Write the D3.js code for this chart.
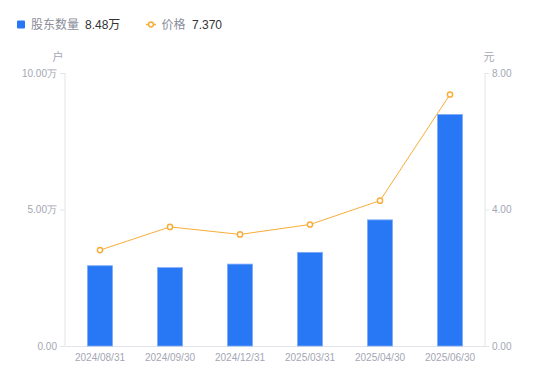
<!DOCTYPE html>
<html><head><meta charset="utf-8">
<script src="https://cdn.jsdelivr.net/npm/d3@7"></script>
<style>
body{margin:0;background:#fff;}
svg{display:block;font-family:"Liberation Sans","Noto Sans CJK SC",sans-serif;}
</style></head>
<body><svg id="c" width="550" height="381"></svg>
<script>
const categories = ["2024/08/31","2024/09/30","2024/12/31","2025/03/31","2025/04/30","2025/06/30"];
const holders = [2.94, 2.87, 3.00, 3.43, 4.62, 8.48];   // 万户
const prices = [2.81, 3.49, 3.27, 3.56, 4.26, 7.37];    // 元
const leftTicks = [0, 5, 10];
const rightTicks = [0, 4, 8];

const svg = d3.select("#c");
const m = {l:65, r:485, t:73, b:346};
const blue = "#2878f5", orange = "#f8ad3a", axisC = "#e3e4ea", labC = "#a3a6b4";

const x = d3.scaleBand().domain(categories).range([m.l, m.r]);
const yL = d3.scaleLinear().domain([0,10]).range([m.b, m.t]);
const yR = d3.scaleLinear().domain([0,8]).range([m.b, m.t]);

// left axis
const gl = svg.append("g").attr("transform",`translate(${m.l},0)`)
  .call(d3.axisLeft(yL).tickValues(leftTicks).tickSize(5).tickPadding(3)
    .tickFormat(d => d===0 ? "0.00" : d3.format(".2f")(d)+"万"));
// right axis
const gr = svg.append("g").attr("transform",`translate(${m.r},0)`)
  .call(d3.axisRight(yR).tickValues(rightTicks).tickSize(4).tickPadding(3)
    .tickFormat(d3.format(".2f")));
[gl,gr].forEach(g=>{
  g.select(".domain").attr("stroke",axisC).attr("d", g===gl ? `M0,${m.t}V${m.b}` : `M0,${m.t}V${m.b}`);
  g.selectAll(".tick line").attr("stroke",axisC);
  g.selectAll(".tick text").attr("fill",labC).attr("font-size",10);
});
// bottom axis
const gb = svg.append("g").attr("transform",`translate(0,${m.b})`)
  .call(d3.axisBottom(x).tickSize(0).tickPadding(8));
gb.select(".domain").attr("stroke",axisC);
gb.selectAll(".tick text").attr("fill",labC).attr("font-size",10);

// unit labels
svg.append("text").attr("x",58).attr("y",61).attr("text-anchor","middle").attr("fill",labC).attr("font-size",11).text("户");
svg.append("text").attr("x",489).attr("y",61).attr("text-anchor","middle").attr("fill",labC).attr("font-size",11).text("元");

// bars
const bw = 25;
svg.append("g").selectAll("rect").data(holders).join("rect")
  .attr("x",(d,i)=>x(categories[i])+x.bandwidth()/2-bw/2)
  .attr("y",d=>yL(d)).attr("width",bw).attr("height",d=>m.b-yL(d))
  .attr("fill",blue).attr("stroke","#7eaaf8").attr("stroke-width",0.8);

// line
const line = d3.line().x((d,i)=>x(categories[i])+x.bandwidth()/2).y(d=>yR(d));
svg.append("path").datum(prices).attr("d",line).attr("fill","none").attr("stroke",orange).attr("stroke-width",1);
svg.append("g").selectAll("circle").data(prices).join("circle")
  .attr("cx",(d,i)=>x(categories[i])+x.bandwidth()/2).attr("cy",d=>yR(d)).attr("r",2.6)
  .attr("fill","#fff").attr("stroke",orange).attr("stroke-width",1.5);

// legend
const lg = svg.append("g").attr("font-size",12);
lg.append("rect").attr("x",17).attr("y",20.5).attr("width",8).attr("height",8).attr("rx",1).attr("fill",blue);
lg.append("text").attr("x",31).attr("y",29).attr("fill","#8a8d99").text("股东数量");
lg.append("text").attr("x",85).attr("y",29).attr("fill","#333").text(d3.format(".2f")(holders[holders.length-1])+"万");
lg.append("line").attr("x1",146).attr("x2",156).attr("y1",24.5).attr("y2",24.5).attr("stroke",orange).attr("stroke-width",1.5);
lg.append("circle").attr("cx",151).attr("cy",24.5).attr("r",2.4).attr("fill","#fff").attr("stroke",orange).attr("stroke-width",1.5);
lg.append("text").attr("x",161.5).attr("y",29).attr("fill","#8a8d99").text("价格");
lg.append("text").attr("x",192).attr("y",29).attr("fill","#333").text(d3.format(".3f")(prices[prices.length-1]));
</script></body></html>
